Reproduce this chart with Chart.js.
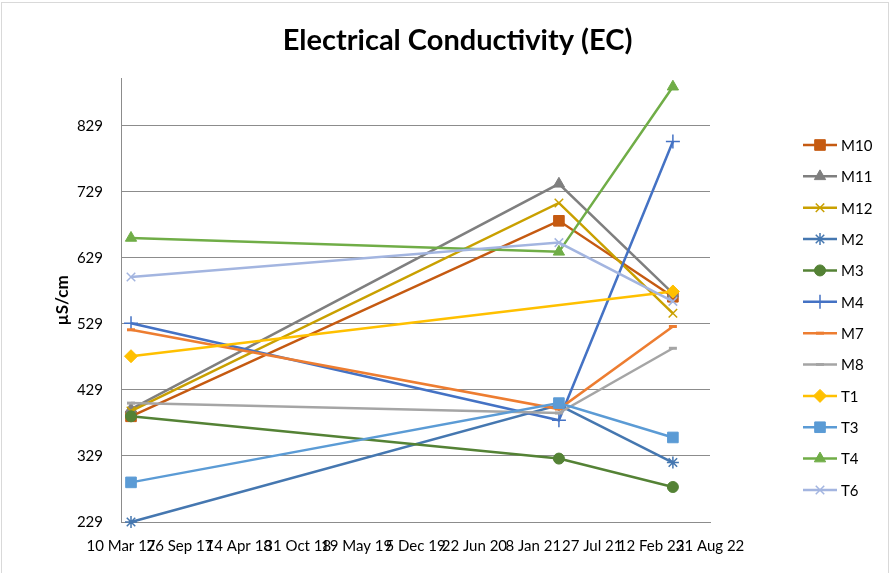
<!DOCTYPE html>
<html><head><meta charset="utf-8">
<script src="https://cdn.jsdelivr.net/npm/chart.js@4.4.1/dist/chart.umd.min.js"></script>
<style>html,body{margin:0;padding:0;background:#fff}#wrap{width:895px;height:573px}</style>
</head><body><div id="wrap"><canvas id="c" width="895" height="573"></canvas></div>
<script>
// ---- data ----
const sampleDates = ['2017-04-13', '2021-04-05', '2022-04-27'];
const seriesNames = ['M10', 'M11', 'M12', 'M2', 'M3', 'M4', 'M7', 'M8', 'T1', 'T3', 'T4', 'T6'];
const M10 = [389, 685, 570];
const M11 = [400, 741, 575];
const M12 = [397, 712, 545];
const M2  = [229, 406, 319];
const M3  = [389, 325, 282];
const M4  = [530, 383, 805];
const M7  = [520, 400, 525];
const M8  = [409, 394, 492];
const T1  = [480, null, 578];
const T3  = [289, 409, 357];
const T4  = [659, 638, 888];
const T6  = [600, 652, 563];
const yTickValues = [229, 329, 429, 529, 629, 729, 829];
const xTickDates = ['2017-03-10', '2017-09-26', '2018-04-14', '2018-10-31', '2019-05-19', '2019-12-05',
                    '2020-06-22', '2021-01-08', '2021-07-27', '2022-02-12', '2022-08-31'];
const xTickLabels = ['10 Mar 17', '26 Sep 17', '14 Apr 18', '31 Oct 18', '19 May 19', '5 Dec 19',
                     '22 Jun 20', '8 Jan 21', '27 Jul 21', '12 Feb 22', '31 Aug 22'];

// ---- styling ----
const seriesValues = [M10, M11, M12, M2, M3, M4, M7, M8, T1, T3, T4, T6];
const colors = ['#C55A11', '#7F7F7F', '#C9A000', '#4577B0', '#548235', '#4472C4',
                '#ED7D31', '#A5A5A5', '#FFC000', '#5B9BD5', '#70AD47', '#A3B5E0'];
const styles = [
  {ps: 'rect', r: 7.5, bw: 1},
  {ps: 'triangle', r: 6.5, bw: 1},
  {ps: 'crossRot', r: 6, bw: 1.5},
  {ps: 'star', r: 6, bw: 1.5},
  {ps: 'circle', r: 5.5, bw: 1},
  {ps: 'cross', r: 7, bw: 1.5},
  {ps: 'line', r: 4, bw: 3},
  {ps: 'line', r: 4, bw: 3},
  {ps: 'rectRot', r: 6.5, bw: 1},
  {ps: 'rect', r: 7.5, bw: 1},
  {ps: 'triangle', r: 6.5, bw: 1},
  {ps: 'crossRot', r: 6, bw: 1.5}
];
const FONT = 'Lato, "Open Sans", sans-serif';
const toDay = s => { const [y, m, d] = s.split('-').map(Number); return Date.UTC(y, m - 1, d) / 86400000; };
const xDays = sampleDates.map(toDay);
const xTickDays = xTickDates.map(toDay);
const n = seriesNames.length;

const datasets = seriesNames.map((name, i) => ({
  label: name,
  data: seriesValues[i].map((v, j) => ({x: xDays[j], y: v})).filter(p => p.y !== null),
  borderColor: colors[i],
  backgroundColor: colors[i],
  pointBackgroundColor: colors[i],
  pointBorderColor: colors[i],
  pointStyle: styles[i].ps,
  pointRadius: styles[i].r,
  pointBorderWidth: styles[i].bw,
  borderWidth: 2.5,
  tension: 0,
  spanGaps: true,
  clip: false,
  order: n - i
}));

const frame = {
  id: 'frame',
  beforeDraw(chart) {
    const c = chart.ctx;
    c.save();
    c.fillStyle = '#fff';
    c.fillRect(0, 0, chart.width, chart.height);
    c.strokeStyle = '#D9D9D9';
    c.lineWidth = 1;
    c.strokeRect(1.5, 2.5, 887, 580);
    c.restore();
  }
};

const legendBox = {
  id: 'legendBox',
  afterDraw(chart) {
    const c = chart.ctx;
    const dsets = chart.data.datasets;
    c.save();
    dsets.forEach((ds, i) => {
      const y = 145 + i * 31.36;
      c.strokeStyle = ds.borderColor;
      c.lineWidth = 2.5;
      c.beginPath(); c.moveTo(803, y); c.lineTo(837, y); c.stroke();
      c.fillStyle = ds.pointBackgroundColor;
      c.strokeStyle = ds.pointBorderColor;
      c.lineWidth = ds.pointBorderWidth;
      if (Chart.helpers && Chart.helpers.drawPoint) {
        Chart.helpers.drawPoint(c, {pointStyle: ds.pointStyle, radius: ds.pointRadius, borderWidth: ds.pointBorderWidth, rotation: 0}, 820, y);
      }
      c.fillStyle = '#000';
      c.font = '15px ' + FONT;
      c.textAlign = 'left';
      c.textBaseline = 'middle';
      c.fillText(ds.label, 841, y + 1);
    });
    c.restore();
  }
};

new Chart(document.getElementById('c'), {
  type: 'line',
  data: {datasets},
  options: {
    responsive: false,
    animation: false,
    events: [],
    layout: {padding: {left: 20, right: 0, top: 0, bottom: 0}},
    plugins: {
      legend: {display: false},
      tooltip: {enabled: false},
      title: {
        display: true,
        text: 'Electrical Conductivity (EC)',
        color: '#000',
        font: {family: FONT, size: 29, weight: 'bold', lineHeight: 1.2},
        padding: {top: 23, bottom: 21}
      }
    },
    scales: {
      x: {
        type: 'linear',
        min: xTickDays[0],
        max: xTickDays[xTickDays.length - 1],
        afterBuildTicks: s => { s.ticks = xTickDays.map(v => ({value: v})); },
        afterFit: s => { s.height = 51; },
        ticks: {
          autoSkip: false, maxRotation: 0, minRotation: 0,
          callback: (v, i) => xTickLabels[i],
          color: '#000', font: {family: FONT, size: 15}, padding: 15
        },
        grid: {display: false, drawTicks: false},
        border: {display: true, color: '#8C8C8C', width: 1}
      },
      y: {
        type: 'linear',
        min: 229,
        max: 900,
        afterBuildTicks: s => { s.ticks = yTickValues.map(v => ({value: v})); },
        afterFit: s => { s.width = 101; },
        ticks: {color: '#000', font: {family: FONT, size: 15}, padding: 18},
        grid: {color: '#8C8C8C', lineWidth: 1, drawTicks: false},
        border: {display: true, color: '#8C8C8C', width: 1},
        title: {display: true, text: 'µS/cm', color: '#000', font: {family: FONT, size: 17, weight: 'bold', lineHeight: 1.2}, padding: {top: 32, bottom: 0}}
      },
      yRight: {
        type: 'linear',
        position: 'right',
        display: true,
        afterFit: s => { s.width = 185; },
        ticks: {display: false},
        grid: {display: false, drawTicks: false},
        border: {display: false}
      }
    }
  },
  plugins: [frame, legendBox]
});
</script>
</body></html>
